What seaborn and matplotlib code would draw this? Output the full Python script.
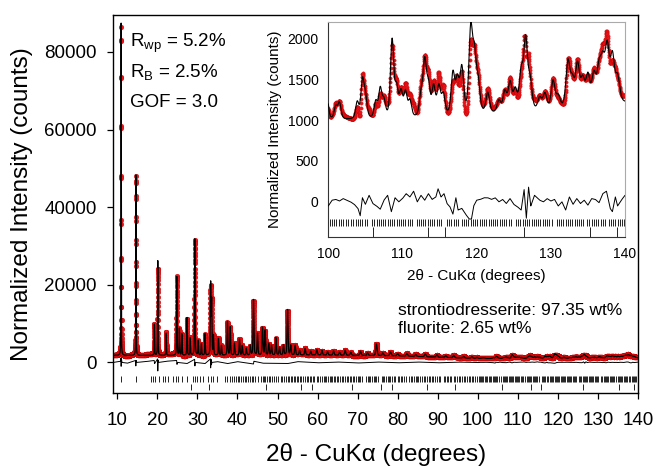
import numpy as np
import pandas as pd
import matplotlib
matplotlib.use('Agg')
import matplotlib.pyplot as plt
import seaborn as sns

sns.set_style('ticks')
plt.rcParams['font.family'] = ['Liberation Sans', 'DejaVu Sans']
plt.rcParams['mathtext.fontset'] = 'custom'
plt.rcParams['mathtext.rm'] = 'Liberation Sans'
plt.rcParams['mathtext.it'] = 'Liberation Sans:italic'
plt.rcParams['text.color'] = 'black'
plt.rcParams['axes.labelcolor'] = 'black'
plt.rcParams['xtick.color'] = 'black'
plt.rcParams['ytick.color'] = 'black'

# Bragg peaks: position (deg 2theta) and height above background (counts)
peak_pos = [10.95, 14.65, 19.25, 20.1, 22.2, 24.85, 25.5, 26.1, 27.4, 28.2,
            29.35, 30.2, 31.0, 31.9, 33.3, 33.55, 34.0, 35.25, 36.0, 37.5,
            38.2, 39.25, 40.5, 41.2, 42.2, 43.2, 44.0, 45.0, 46.25, 46.9,
            47.8, 48.5, 49.6, 50.5, 51.5, 52.5, 53.3, 54.4, 55.5, 56.9,
            58.3, 59.8, 61.1, 62.5, 64.0, 65.5, 66.9, 68.3, 70.7, 72.5,
            74.7, 76.3, 78.2, 80.0, 82.3, 84.5, 86.9, 89.8, 92.0, 94.0,
            96.5, 98.5, 99.8,
            101.0, 101.5, 103.9, 104.6, 105.0, 106.4, 107.0, 107.5, 108.6, 109.2,
            109.8, 110.4, 111.0, 112.5, 113.0, 113.5, 114.2, 114.9, 115.5, 116.8,
            117.4, 118.0, 119.2, 119.7, 120.2, 121.5, 123.0, 123.8, 124.5, 125.2,
            126.0, 126.6, 127.2, 128.5, 129.2, 130.3, 131.0, 132.3, 132.9, 133.6,
            134.3, 135.0, 135.8, 136.5, 137.0, 137.6, 138.3, 139.0]
peak_height = [85600, 46500, 8000, 24400, 5700, 20300, 6900, 5500, 9700, 4500,
               30000, 3800, 3000, 5600, 18400, 14000, 5000, 4300, 2500, 8700,
               7300, 3100, 4100, 2500, 1800, 2500, 14300, 5600, 7100, 6400,
               3000, 2500, 4500, 2000, 2600, 11700, 2500, 2500, 1200, 1700,
               1000, 1400, 1200, 900, 1100, 800, 1300, 800, 1100, 700,
               3000, 700, 1000, 600, 700, 500, 700, 600, 500, 600,
               400, 400, 300,
               150, 200, 200, 450, 250, 200, 350, 200, 950, 350,
               300, 300, 200, 250, 650, 350, 350, 350, 250, 500,
               400, 550, 1000, 650, 350, 250, 150, 250, 350, 250,
               450, 850, 350, 150, 200, 350, 150, 550, 300, 500,
               300, 350, 350, 400, 450, 650, 550, 300]

# background level under the pattern
bg_x = [9, 30, 60, 80, 100, 110, 120, 130, 140]
bg_y = [1800, 1800, 1900, 1700, 1000, 1000, 1050, 1100, 1200]

resid_x = [9.0, 10.8, 10.9, 10.95, 11.02, 11.15, 12.5, 14.55, 14.62, 14.7,
           14.85, 17.0, 19.2, 19.3, 20.05, 20.1, 20.18, 20.3, 22.2, 24.8,
           24.9, 25.0, 27.4, 29.3, 29.37, 29.45, 31.9, 33.25, 33.3, 33.4,
           33.5, 33.6, 35.0, 37.5, 40.0, 44.0, 44.1, 46.3, 52.5, 55.0,
           60.0, 65.0, 70.0, 75.0, 80.0, 85.0, 90.0, 95.0, 99.5,
           100.0, 100.5, 101.0, 101.5, 102.0, 102.5, 103.0, 103.5, 104.0, 104.3,
           104.6, 105.0, 105.5, 106.0, 106.5, 107.0, 107.5, 108.0, 108.5, 109.0,
           109.5, 110.0, 110.5, 111.0, 111.5, 112.0, 112.5, 113.0, 113.5, 114.0,
           114.5, 114.8, 115.2, 115.6, 116.0, 116.4, 116.8, 117.2, 117.5, 118.0,
           118.5, 119.0, 119.3, 119.6, 120.0, 120.5, 121.0, 121.5, 122.0, 122.5,
           123.0, 123.5, 124.0, 124.5, 125.0, 125.5, 126.0, 126.4, 126.7, 127.0,
           127.3, 127.8, 128.5, 129.0, 129.5, 130.0, 130.5, 131.0, 131.5, 132.0,
           132.5, 133.0, 133.5, 134.0, 134.5, 135.0, 135.5, 136.0, 136.5, 137.0,
           137.5, 138.0, 138.3, 138.7, 139.0, 139.5, 140.0]
resid_y = [0, 300, 1200, -1000, 900, 0, -200, 500, -900, 500,
           0, 200, 500, -300, 900, -2200, 600, 0, 300, 500,
           -500, 0, -300, 800, -900, 0, -300, 900, -1400, 800,
           -600, 0, 200, -300, 200, -400, 300, -200, -300, 200,
           -100, 100, -150, 100, -100, 100, -100, 80, 20,
           -50, 20, 30, 10, 40, 20, 0, -30, -80, -170,
           50, -30, 80, -20, -50, -90, 20, 80, -120, 50,
           0, 40, 100, 60, 130, 0, 80, 20, 100, 30,
           60, 160, 60, 100, -20, -60, -150, 50, -100, -80,
           -150, -210, -210, -50, 20, 30, 50, 50, 30, 50,
           0, 30, -20, 40, -30, -60, -100, 150, -200, 180,
           -50, 80, 20, 0, 40, 10, 30, -50, 0, -100,
           60, -30, 40, -20, 20, -40, 40, 30, -10, 100,
           130, -80, -120, 60, -50, 20, 80]

# reflection markers
srd_refl = [10.9, 14.6, 18.4, 18.9, 19.35, 20.5, 21.5, 22.0, 22.6, 24.0,
            24.6, 25.2, 26.1, 27.3, 28.85, 29.35, 29.9, 30.7, 31.35, 32.75,
            33.3, 33.9, 35.0,
            37.0, 37.5, 38.2, 38.6, 39.25, 39.7, 40.1, 40.5, 41.0, 41.3,
            41.8, 42.2, 42.7, 43.2, 43.6, 44.0, 44.5, 45.0, 45.8, 46.25,
            46.6, 46.9, 47.4, 47.8, 48.2, 48.5, 49.0, 49.6, 50.0, 50.8,
            51.1, 51.5, 52.0, 52.5, 52.9, 53.3, 53.7, 54.0, 54.4, 54.8,
            55.2, 55.5, 55.9, 56.3, 56.9, 57.3, 57.6, 58.0, 58.3, 58.8,
            59.2, 59.8, 60.2, 60.6, 61.1, 61.5, 61.9, 62.2, 62.5, 63.0,
            63.3, 63.7, 64.0, 64.4, 64.9, 65.2, 65.5, 66.0, 66.4, 66.9,
            67.3, 67.7, 68.0, 68.3, 68.8, 69.2, 69.6, 70.0, 70.3, 70.7,
            71.1, 72.0, 72.5, 72.8, 73.2, 73.6, 74.0, 74.4, 74.7, 75.1,
            76.0, 76.3, 76.7, 77.1, 77.5, 77.8, 78.2, 78.6, 79.0, 79.4,
            80.0, 80.4, 80.8, 81.2, 81.6, 82.0, 82.9, 83.3, 83.7, 84.1,
            84.5, 84.9, 85.2, 85.6, 86.0, 86.5, 86.9, 87.3, 87.7, 88.1,
            88.5, 88.9, 89.3, 89.8, 90.2, 90.6, 91.5, 91.9, 92.3, 92.6,
            93.0, 93.4, 94.0, 94.4, 94.8, 95.2, 95.6, 96.0, 96.5, 96.9,
            97.3, 97.7, 98.1, 98.5, 98.9, 99.3, 99.7,
            100.2, 100.5, 100.8, 101.1, 101.4, 101.7, 102.0, 102.4, 102.7, 103.0,
            103.3, 103.7, 104.0, 104.3, 104.6, 104.9, 105.2, 105.9, 106.2, 106.5,
            106.8, 107.1, 107.4, 107.7, 108.0, 108.3, 108.6, 108.9, 109.2, 109.5,
            109.8, 110.1, 110.4, 110.7, 111.0, 111.3, 111.9, 112.2, 112.5, 112.8,
            113.1, 113.4, 113.7, 114.0, 114.3, 114.6, 114.9, 115.2, 116.0, 116.3,
            116.6, 116.9, 117.2, 117.5, 118.0, 118.3, 118.6, 118.9, 119.2, 119.5,
            119.8, 120.1, 120.4, 120.7, 121.0, 121.3, 121.6, 121.9, 122.2, 122.5,
            122.8, 123.1, 123.4, 123.7, 124.0, 124.3, 124.6, 125.3, 125.6, 125.9,
            126.2, 126.5, 126.8, 127.1, 127.4, 127.7, 128.0, 128.3, 128.6, 128.9,
            129.2, 129.5, 129.8, 130.1, 130.8, 131.1, 131.4, 131.7, 132.0, 132.3,
            132.6, 132.9, 133.2, 133.5, 133.8, 134.1, 134.4, 134.9, 135.2, 135.5,
            135.8, 136.1, 136.4, 136.7, 137.0, 137.3, 137.8, 138.1, 138.4, 138.7,
            139.0, 139.3, 139.6, 139.9]
fluorite_refl = [28.28, 32.8, 47.05, 55.8, 58.6, 68.7, 75.9, 78.6, 87.4, 94.3,
                 106.0, 113.4, 115.8, 126.4, 135.3, 138.9]


def pseudo_voigt(x, x0, h):
    w = 0.08 + 0.0045 * (x0 - 10)
    d = ((x - x0) / w) ** 2
    return h * (0.6 * np.exp(-4 * np.log(2) * d) + 0.4 / (1 + 4 * d))


tth = np.round(np.arange(9.0, 140.001, 0.01), 2)
calc = np.interp(tth, bg_x, bg_y).astype(float)
for p, h in zip(peak_pos, peak_height):
    calc += pseudo_voigt(tth, p, h)
diff = np.interp(tth, resid_x, resid_y)
df = pd.DataFrame({'tth': tth, 'calc': calc, 'obs': calc + diff, 'diff': diff})

red = '#e8161c'
fig = plt.figure(figsize=(6.57, 4.66), dpi=100)
ax = fig.add_axes([0.1725, 0.1573, 0.7985, 0.8105])

sns.scatterplot(data=df, x='tth', y='obs', ax=ax, s=12, color=red,
                edgecolor='#c40000', linewidth=0.2, zorder=2)
sns.lineplot(data=df, x='tth', y='calc', ax=ax, color='black', lw=0.9,
             estimator=None, sort=False, zorder=3)
sns.lineplot(data=df, x='tth', y='diff', ax=ax, color='black', lw=0.7,
             estimator=None, sort=False, zorder=3)
ax.vlines(srd_refl, -5000, -3400, color='black', lw=0.6)
ax.vlines(fluorite_refl, -7000, -5500, color='black', lw=0.6)

ax.set_xlim(9, 140)
ax.set_ylim(-7800, 89500)
ax.set_xticks(range(10, 141, 10))
ax.set_yticks(range(0, 80001, 20000))
ax.tick_params(direction='out', length=4, width=0.9, labelsize=13.5)
ax.tick_params(axis='x', pad=10)
ax.tick_params(axis='y', pad=8)
for s in ax.spines.values():
    s.set_color('black')
    s.set_linewidth(1.0)
ax.set_xlabel('2θ - CuKα (degrees)', fontsize=17.5, labelpad=10)
ax.set_ylabel('Normalized Intensity (counts)', fontsize=17.5, labelpad=8)

ax.text(0.032, 0.916, r'R$_{\rm wp}$ = 5.2%', transform=ax.transAxes, fontsize=13.5)
ax.text(0.032, 0.837, r'R$_{\rm B}$ = 2.5%', transform=ax.transAxes, fontsize=13.5)
ax.text(0.032, 0.757, 'GOF = 3.0', transform=ax.transAxes, fontsize=13.5)
ax.text(0.543, 0.206, 'strontiodresserite: 97.35 wt%', transform=ax.transAxes, fontsize=12.5)
ax.text(0.543, 0.159, 'fluorite: 2.65 wt%', transform=ax.transAxes, fontsize=12.5)

# inset: high angle region
ins = fig.add_axes([0.4997, 0.4914, 0.4516, 0.4614])
hi = df[df['tth'] >= 100]
sns.scatterplot(data=hi.iloc[::3], x='tth', y='obs', ax=ins, s=6, color=red,
                edgecolor='#c40000', linewidth=0.2, zorder=2)
sns.lineplot(data=hi, x='tth', y='calc', ax=ins, color='black', lw=0.8,
             estimator=None, sort=False, zorder=3)
sns.lineplot(data=hi, x='tth', y='diff', ax=ins, color='black', lw=0.7,
             estimator=None, sort=False, zorder=3)
ins.vlines([r for r in srd_refl if r >= 100], -300, -210, color='black', lw=0.6)
ins.vlines([r for r in fluorite_refl if r >= 100], -430, -310, color='black', lw=0.6)
ins.set_xlim(100, 140)
ins.set_ylim(-430, 2200)
ins.set_xticks([100, 110, 120, 130, 140])
ins.set_yticks([0, 500, 1000, 1500, 2000])
ins.tick_params(length=0, labelsize=10, pad=7)
ins.spines['left'].set_color('#333333')
ins.spines['bottom'].set_color('#333333')
ins.spines['top'].set_color('#aaaaaa')
ins.spines['right'].set_color('#aaaaaa')
for s in ins.spines.values():
    s.set_linewidth(0.8)
ins.set_xlabel('2θ - CuKα (degrees)', fontsize=11, labelpad=6)
ins.set_ylabel('Normalized Intensity (counts)', fontsize=11, labelpad=4)

fig.savefig('out.png', dpi=100)
